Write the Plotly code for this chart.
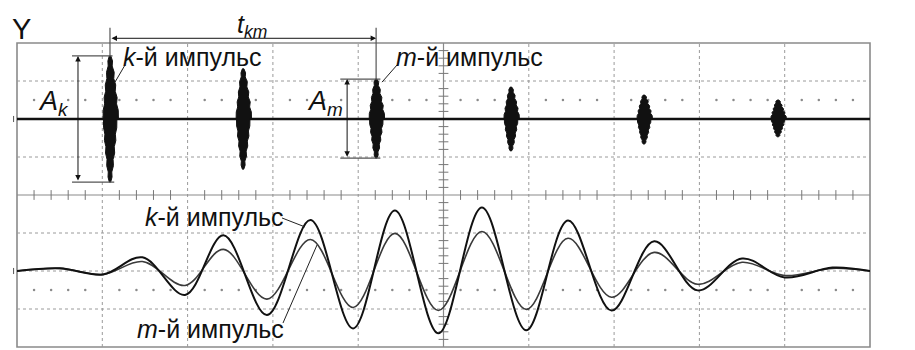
import numpy as np
import plotly.graph_objects as go

# ---------------- data (time and amplitude in screen divisions) ----------------
# Channel X1: train of ultrasonic bursts
burst_t = [1.09, 2.65, 4.21, 5.79, 7.35, 8.92]
burst_pos = [1.66, 1.32, 1.05, 0.84, 0.63, 0.50]
burst_neg = [-1.66, -1.32, -1.03, -0.84, -0.66, -0.47]

# Channel X2: k-th and m-th pulses on an expanded time base (turning points)
x2_t = [0.00, 0.50, 1.01, 1.47, 1.97, 2.42, 2.93, 3.44, 3.94, 4.43, 4.94,
        5.45, 5.97, 6.46, 6.97, 7.47, 7.98, 8.50, 9.00, 9.56, 10.00]
pulse_k = [0.00, 0.07, -0.09, 0.36, -0.63, 0.94, -1.16, 1.34, -1.51, 1.59, -1.64,
           1.67, -1.56, 1.33, -1.04, 0.78, -0.51, 0.33, -0.17, 0.09, 0.00]
pulse_m = [0.00, 0.07, -0.09, 0.25, -0.38, 0.57, -0.74, 0.83, -0.96, 0.99, -1.04,
           1.04, -1.01, 0.86, -0.69, 0.49, -0.35, 0.23, -0.12, 0.07, 0.00]

# screen layout: 10 x 8 divisions, channel zero levels
X1_LEVEL = 2.0
X2_LEVEL = -2.0
FONT = "Liberation Sans, Arial, sans-serif"

# burst outline: relative height (tip -> zero level) and relative half-width
prof_h = [1.00, 0.92, 0.84, 0.74, 0.64, 0.54, 0.44, 0.34, 0.24, 0.14, 0.05, 0.00]
prof_w = [0.10, 0.30, 0.26, 0.50, 0.45, 0.68, 0.62, 0.85, 0.78, 0.98, 1.00, 1.00]
HALF_W = 0.09


def burst_outline(tc, up, dn):
    xs, ys = [], []
    rev = list(zip(reversed(prof_h), reversed(prof_w)))
    fwd = list(zip(prof_h, prof_w))
    # left flank of the positive lobe, zero level up to the tip
    for h, w in rev:
        xs.append(tc - HALF_W * w * 0.9)
        ys.append(X1_LEVEL + up * h)
    # right flank of the positive lobe, tip down to zero level
    for h, w in fwd:
        xs.append(tc + HALF_W * w * 1.1)
        ys.append(X1_LEVEL + up * h)
    # right flank of the negative lobe, zero level down to the tip
    for h, w in rev:
        xs.append(tc + HALF_W * w * 0.9)
        ys.append(X1_LEVEL + dn * h)
    # left flank of the negative lobe, tip back up to zero level
    for h, w in fwd:
        xs.append(tc - HALF_W * w * 0.85)
        ys.append(X1_LEVEL + dn * h)
    xs.append(None)
    ys.append(None)
    return xs, ys


fig = go.Figure()

# ---------------- graticule ----------------
shapes = []
grid = dict(color="#9a9a9a", width=1, dash="dot")
for gx in range(1, 10):
    if gx == 5:
        continue
    shapes.append(dict(type="line", xref="x", yref="y", x0=gx, x1=gx, y0=-4, y1=4,
                       line=grid, layer="below"))
for gy in [-3, -2, -1, 1, 2, 3]:
    shapes.append(dict(type="line", xref="x", yref="y", x0=0, x1=10, y0=gy, y1=gy,
                       line=grid, layer="below"))
axis_line = dict(color="#8a8a8a", width=1.2)
shapes.append(dict(type="line", xref="x", yref="y", x0=5, x1=5, y0=-4, y1=4,
                   line=axis_line, layer="below"))
shapes.append(dict(type="line", xref="x", yref="y", x0=0, x1=10, y0=0, y1=0,
                   line=axis_line, layer="below"))
shapes.append(dict(type="rect", xref="paper", yref="paper", x0=0, x1=1, y0=0, y1=1,
                   line=dict(color="#8a8a8a", width=1.6), layer="below"))

# minor ticks on the centre lines
minor_x = [v for v in np.round(np.arange(0.2, 10.0, 0.2), 2) if abs(v - round(v)) > 1e-6]
minor_y = [v for v in np.round(np.arange(-3.8, 4.0, 0.2), 2) if abs(v - round(v)) > 1e-6]
fig.add_trace(go.Scatter(x=minor_x, y=[0] * len(minor_x), mode="markers",
                         marker=dict(symbol="line-ns", size=7,
                                     line=dict(color="#777", width=1)),
                         hoverinfo="skip", showlegend=False))
fig.add_trace(go.Scatter(x=[5] * len(minor_y), y=minor_y, mode="markers",
                         marker=dict(symbol="line-ew", size=7,
                                     line=dict(color="#777", width=1)),
                         hoverinfo="skip", showlegend=False))
# sparse dotted rows
fig.add_trace(go.Scatter(x=minor_x + minor_x,
                         y=[2.5] * len(minor_x) + [-2.5] * len(minor_x),
                         mode="markers", marker=dict(size=2.5, color="#8a8a8a"),
                         hoverinfo="skip", showlegend=False))

# ---------------- channel X1 ----------------
fig.add_trace(go.Scatter(x=[0, 10], y=[X1_LEVEL, X1_LEVEL], mode="lines",
                         line=dict(color="#111", width=2.6),
                         hoverinfo="skip", showlegend=False))
bx, by = [], []
for tc, up, dn in zip(burst_t, burst_pos, burst_neg):
    xs, ys = burst_outline(tc, up, dn)
    bx += xs
    by += ys
fig.add_trace(go.Scatter(x=bx, y=by, mode="lines", fill="toself",
                         fillcolor="#111", line=dict(color="#111", width=1),
                         hoverinfo="skip", showlegend=False))

# ---------------- channel X2 ----------------
fig.add_trace(go.Scatter(x=x2_t, y=[X2_LEVEL + v for v in pulse_m], mode="lines",
                         line=dict(color="#3a3a3a", width=1.6, shape="spline",
                                   smoothing=1.0),
                         name="m", showlegend=False))
fig.add_trace(go.Scatter(x=x2_t, y=[X2_LEVEL + v for v in pulse_k], mode="lines",
                         line=dict(color="#111", width=2.0, shape="spline",
                                   smoothing=1.0),
                         name="k", showlegend=False))


def to_paper(y):
    return (y + 4.0) / 8.0


# ---------------- dimension lines ----------------
ext = dict(color="#555", width=1.2)
k_top = X1_LEVEL + burst_pos[0]
k_bot = X1_LEVEL + burst_neg[0]
m_top = X1_LEVEL + burst_pos[2]
m_bot = X1_LEVEL + burst_neg[2]
TKM_Y = 1.0155
for tc, top in [(burst_t[0], k_top), (burst_t[2], m_top)]:
    shapes.append(dict(type="line", xref="x", yref="paper", x0=tc, x1=tc,
                       y0=to_paper(top), y1=1.05, line=ext))
shapes += [
    dict(type="line", xref="x", yref="y", x0=0.645, x1=burst_t[0] + 0.03,
         y0=k_top, y1=k_top, line=ext),
    dict(type="line", xref="x", yref="y", x0=0.645, x1=burst_t[0] + 0.05,
         y0=k_bot, y1=k_bot, line=ext),
    dict(type="line", xref="x", yref="y", x0=3.79, x1=burst_t[2] + 0.05,
         y0=m_top, y1=m_top, line=ext),
    dict(type="line", xref="x", yref="y", x0=3.79, x1=burst_t[2] + 0.05,
         y0=m_bot, y1=m_bot, line=ext),
]
# leader lines
lead = dict(color="#222", width=1)
shapes += [
    dict(type="line", xref="x", yref="y", x0=1.266, y0=3.42, x1=1.149, y1=2.97, line=lead),
    dict(type="line", xref="x", yref="y", x0=4.455, y0=3.42, x1=4.279, y1=2.97, line=lead),
    dict(type="line", xref="x", yref="y", x0=3.107, y0=-0.605, x1=3.376, y1=-0.84, line=lead),
    dict(type="line", xref="x", yref="y", x0=3.118, y0=-3.37, x1=3.517, y1=-1.316, line=lead),
]
# level markers at the left edge
for lvl in [X1_LEVEL, X2_LEVEL]:
    shapes.append(dict(type="line", xref="paper", yref="y", x0=-0.004, x1=-0.004,
                       y0=lvl - 0.08, y1=lvl + 0.08, line=dict(color="#555", width=1)))

arrow = dict(showarrow=True, text="", arrowside="end+start", arrowhead=2,
             arrowsize=1.1, arrowwidth=1, arrowcolor="#111",
             startarrowhead=2, startarrowsize=1.1, standoff=0, startstandoff=0)
annotations = [
    dict(x=burst_t[2], y=TKM_Y, xref="x", yref="paper", ax=burst_t[0], axref="x",
         ay=0, ayref="pixel", **arrow),
    dict(x=0.715, y=k_top, xref="x", yref="y", ax=0, axref="pixel",
         ay=k_bot, ayref="y", **arrow),
    dict(x=3.87, y=m_top, xref="x", yref="y", ax=0, axref="pixel",
         ay=m_bot, ayref="y", **arrow),
]


def label(text, x, y, size, xanchor="left", yref="y"):
    return dict(text=text, x=x, y=y, xref="x", yref=yref, xanchor=xanchor,
                yanchor="middle", showarrow=False,
                font=dict(family=FONT, size=size, color="#111"))


annotations += [
    label("Y", 0.05, 1.045, 29, xanchor="center", yref="paper"),
    label("X1", 10.29, X1_LEVEL - 0.05, 30, xanchor="center"),
    label("X2", 10.29, X2_LEVEL - 0.05, 30, xanchor="center"),
    label("<i>t</i><sub><i>km</i></sub>", 2.76, 1.055, 25, xanchor="center", yref="paper"),
    label("<i>k</i>-й импульс", 1.22, 3.64, 25),
    label("<i>m</i>-й импульс", 4.42, 3.64, 25),
    label("<i>A</i><sub><i>k</i></sub>", 0.22, 2.42, 27),
    label("<i>A</i><sub><i>m</i></sub>", 3.38, 2.42, 27),
    label("<i>k</i>-й импульс", 1.48, -0.57, 25),
    label("<i>m</i>-й импульс", 1.38, -3.52, 25),
]

fig.update_layout(
    width=915, height=350,
    margin=dict(l=17, r=45, t=43, b=3),
    paper_bgcolor="white", plot_bgcolor="white",
    xaxis=dict(range=[0, 10], visible=False, fixedrange=True),
    yaxis=dict(range=[-4, 4], visible=False, fixedrange=True),
    shapes=shapes, annotations=annotations,
    showlegend=False,
)

fig.write_html("out.html")
